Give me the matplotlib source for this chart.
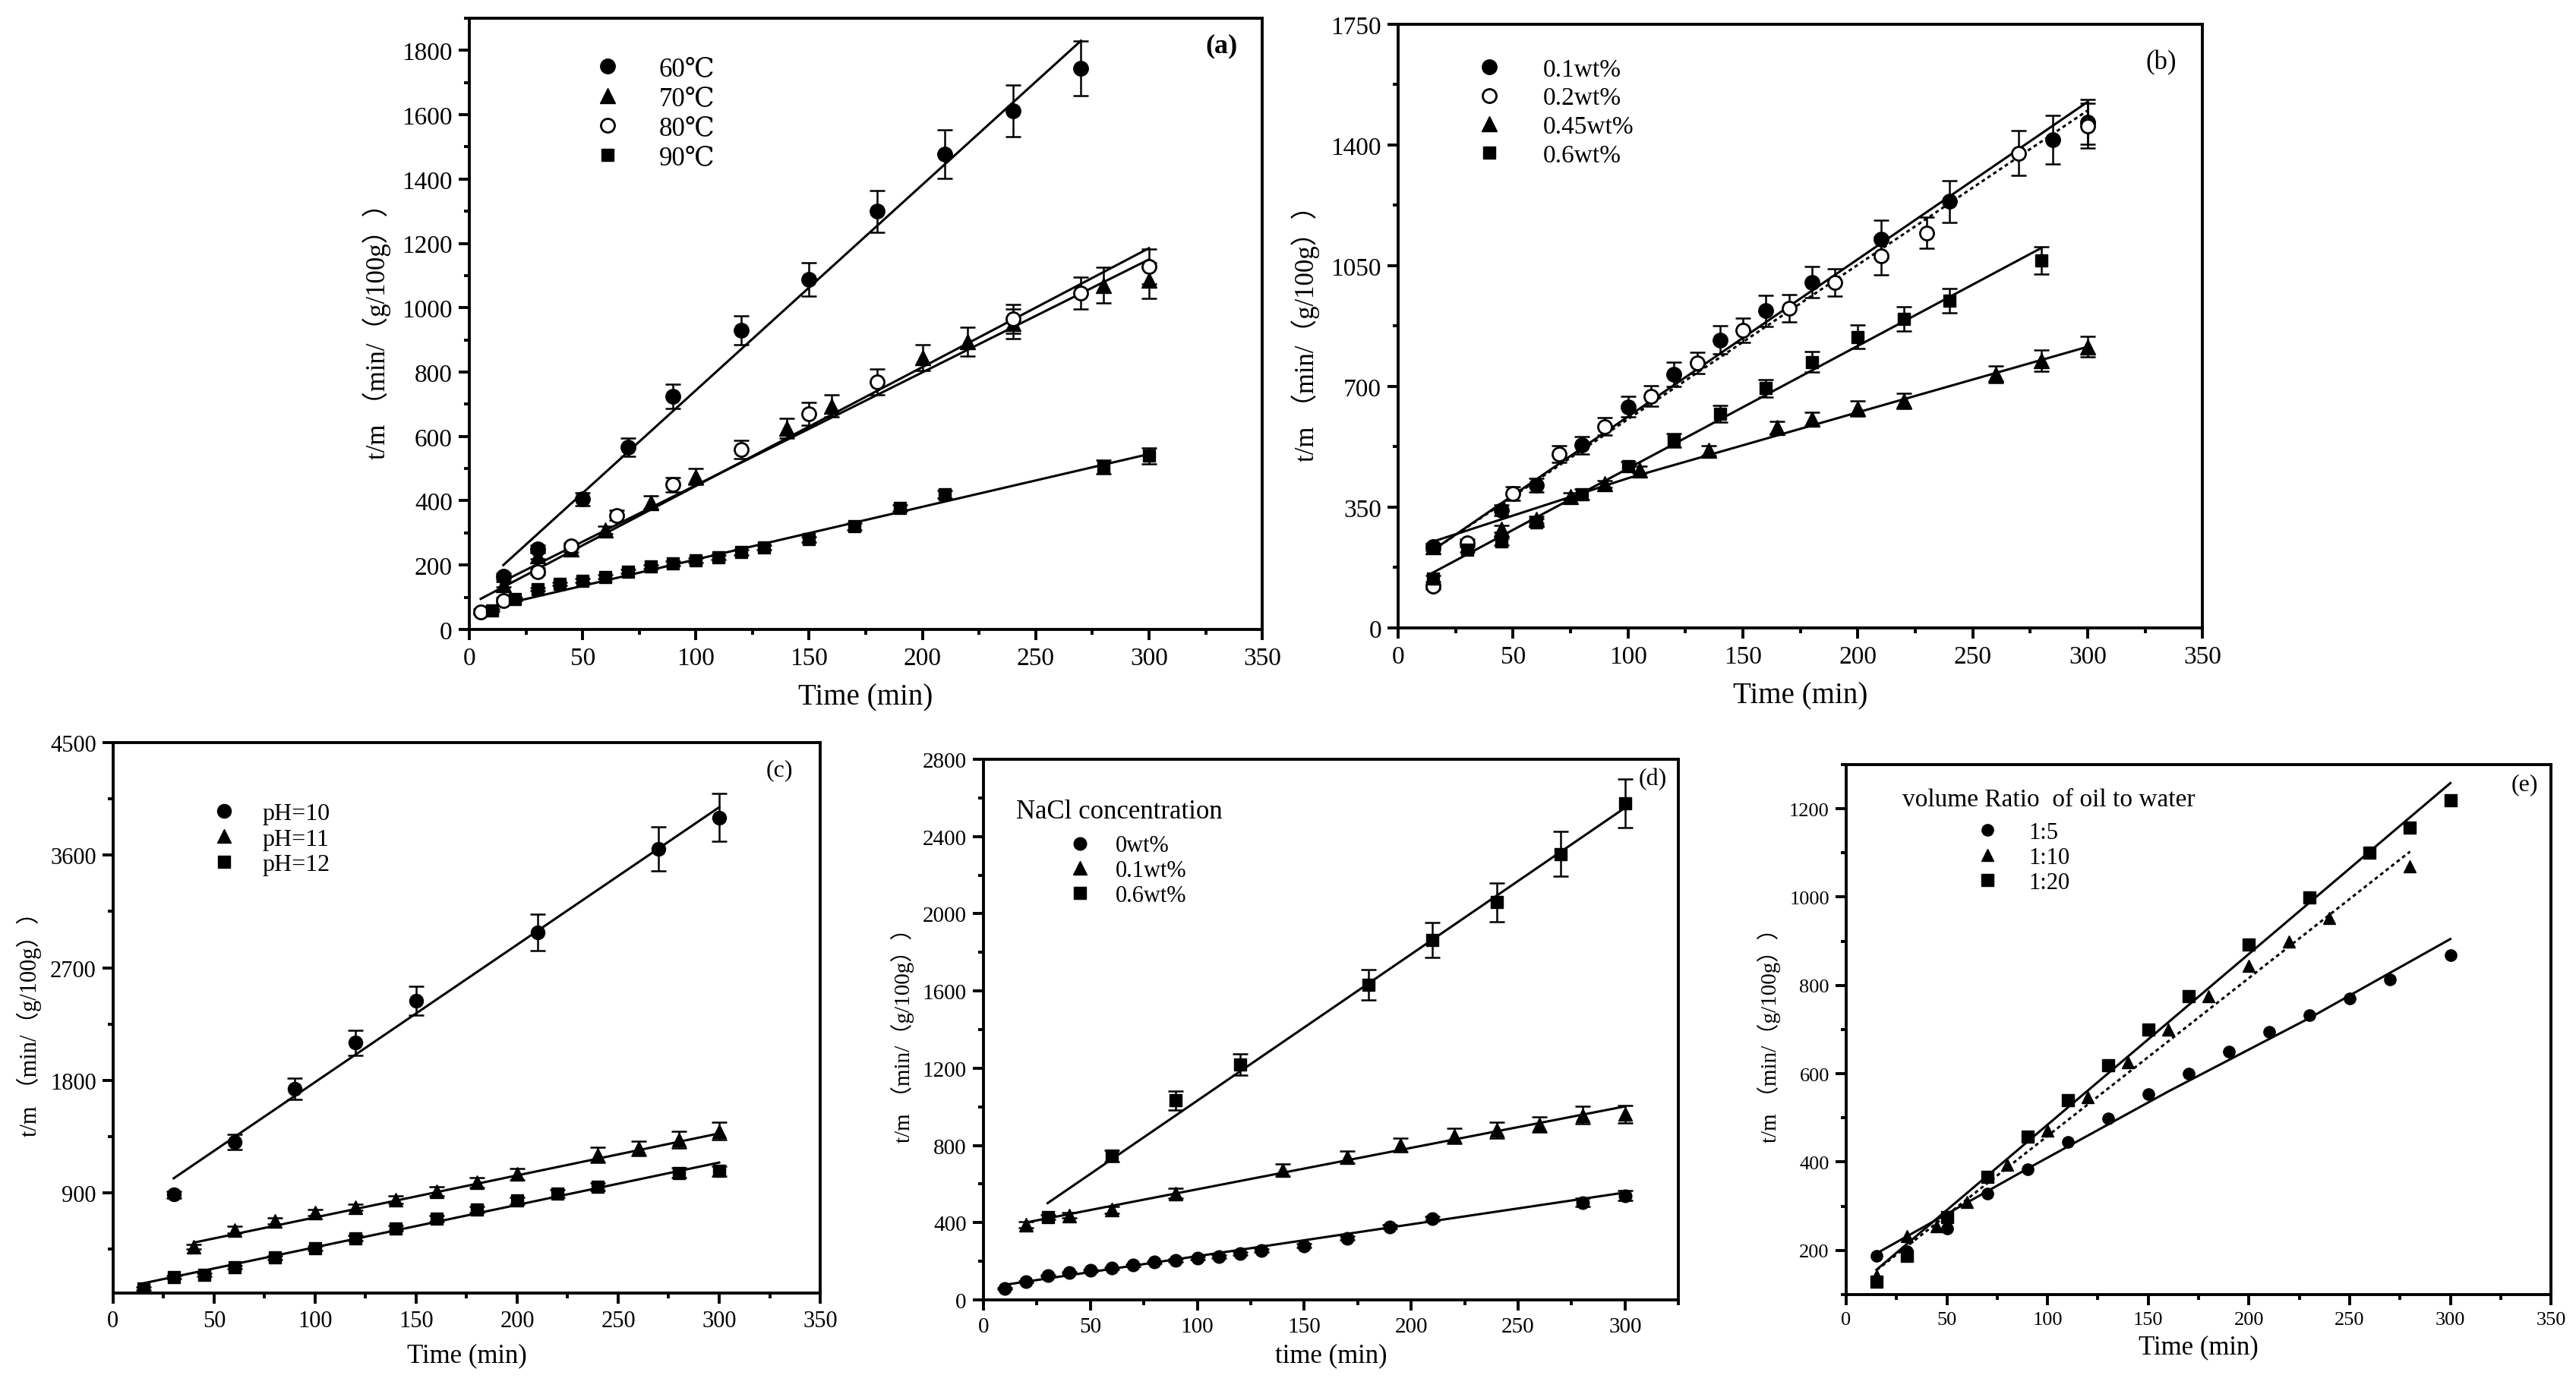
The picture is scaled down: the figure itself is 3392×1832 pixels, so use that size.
"""
Drying kinetics panels (a)-(e): t/m versus time with linear fits.
Five axes placed by hand to follow the original figure layout.
"""
import matplotlib
matplotlib.use("Agg")
import matplotlib.pyplot as plt
from matplotlib.ticker import MultipleLocator
from matplotlib.transforms import IdentityTransform

plt.rcParams["font.family"] = ["Liberation Serif", "DejaVu Serif", "Noto Sans CJK SC"]
plt.rcParams["mathtext.default"] = "regular"

DPI = 100
YLABEL = "t/m （min/（g/100g））"

# ---------------- (a) temperature ----------------
A_X60 = [15, 30, 50, 70, 90, 120, 150, 180, 210, 240, 270]
A_Y60 = [165, 250, 405, 567, 725, 930, 1088, 1300, 1478, 1612, 1745]
A_E60 = [10, 12, 20, 28, 38, 45, 52, 65, 75, 80, 85]
A_X70 = [15, 30, 45, 60, 80, 100, 140, 160, 200, 220, 240, 280, 300]
A_Y70 = [140, 230, 250, 310, 395, 475, 625, 695, 845, 895, 950, 1070, 1085]
A_E70 = [8, 10, 10, 12, 20, 25, 30, 35, 40, 45, 45, 55, 55]
A_X80 = [5, 15, 30, 45, 65, 90, 120, 150, 180, 240, 270, 300]
A_Y80 = [55, 90, 180, 260, 355, 450, 560, 670, 770, 965, 1045, 1128]
A_E80 = [8, 10, 10, 10, 15, 22, 28, 35, 40, 45, 50, 55]
A_X90 = [10, 20, 30, 40, 50, 60, 70, 80, 90, 100, 110, 120, 130, 150, 170, 190, 210, 280, 300]
A_Y90 = [60, 95, 125, 142, 152, 163, 180, 195, 205, 215, 225, 240, 255, 280, 320, 378, 420, 505, 540]
A_E90 = [4, 5, 5, 5, 6, 6, 6, 6, 7, 7, 7, 8, 8, 9, 10, 10, 12, 22, 25]
A_FIT60 = ([15, 270], [200, 1830])
A_FIT70 = ([15, 300], [150, 1150])
A_FIT80 = ([5, 300], [95, 1185])
A_FIT90 = ([10, 300], [70, 545])
A_LABELS = ["60℃", "70℃", "80℃", "90℃"]

# ---------------- (b) concentration ----------------
B_X1 = [15, 45, 60, 80, 100, 120, 140, 160, 180, 210, 240, 285, 300]
B_Y1 = [235, 341, 414, 530, 641, 735, 835, 919, 1002, 1126, 1236, 1416, 1467]
B_E1 = [10, 15, 20, 25, 30, 35, 40, 45, 45, 55, 60, 70, 65]
B_X2 = [15, 30, 50, 70, 90, 110, 130, 150, 170, 190, 210, 230, 270, 300]
B_Y2 = [120, 247, 390, 504, 584, 672, 768, 862, 926, 1002, 1078, 1145, 1376, 1456]
B_E2 = [8, 10, 20, 25, 25, 30, 30, 35, 40, 40, 55, 45, 65, 65]
B_X45 = [15, 45, 60, 75, 90, 105, 135, 165, 180, 200, 220, 260, 280, 300]
B_Y45 = [236, 287, 314, 381, 418, 458, 514, 581, 605, 637, 659, 735, 775, 815]
B_E45 = [8, 10, 10, 10, 10, 10, 15, 18, 20, 22, 22, 25, 30, 30]
B_X6 = [15, 30, 45, 60, 80, 100, 120, 140, 160, 180, 200, 220, 240, 280]
B_Y6 = [143, 227, 250, 307, 387, 468, 544, 621, 695, 771, 844, 895, 949, 1065]
B_E6 = [8, 8, 10, 10, 15, 15, 20, 25, 25, 30, 35, 35, 35, 40]
B_FIT1 = ([15, 300], [225, 1525])
B_FIT2 = ([15, 300], [225, 1500])
B_FIT45 = ([15, 100, 200, 300], [250, 434, 625, 815])
B_FIT6 = ([15, 280], [160, 1102])
B_LABELS = ["0.1wt%", "0.2wt%", "0.45wt%", "0.6wt%"]

# ---------------- (c) pH ----------------
C_X10 = [30, 60, 90, 120, 150, 210, 270, 300]
C_Y10 = [886, 1307, 1735, 2101, 2437, 2984, 3651, 3901]
C_E10 = [25, 60, 85, 100, 115, 145, 175, 190]
C_X11 = [40, 60, 80, 100, 120, 140, 160, 180, 200, 240, 260, 280, 300]
C_Y11 = [469, 606, 675, 743, 784, 846, 914, 983, 1051, 1205, 1256, 1325, 1393]
C_E11 = [20, 25, 25, 25, 25, 30, 35, 40, 45, 60, 60, 65, 70]
C_X12 = [15, 30, 45, 60, 80, 100, 120, 140, 160, 180, 200, 220, 240, 280, 300]
C_Y12 = [137, 230, 247, 305, 384, 459, 538, 617, 692, 767, 839, 897, 949, 1060, 1075]
C_E12 = [10, 12, 12, 14, 16, 18, 20, 22, 24, 26, 28, 30, 32, 40, 40]
C_FIT10 = ([30, 300], [1017, 3983])
C_FIT11 = ([40, 300], [503, 1376])
C_FIT12 = ([15, 300], [178, 1143])
C_LABELS = ["pH=10", "pH=11", "pH=12"]

# ---------------- (d) NaCl ----------------
D_X0 = [10, 20, 30, 40, 50, 60, 70, 80, 90, 100, 110, 120, 130, 150, 170, 190, 210, 280, 300]
D_Y0 = [60, 95, 125, 142, 152, 163, 180, 195, 205, 215, 225, 240, 255, 280, 320, 378, 420, 505, 540]
D_E0 = [4, 5, 5, 5, 6, 6, 6, 6, 7, 7, 7, 8, 8, 9, 10, 10, 12, 22, 25]
D_X01 = [20, 40, 60, 90, 140, 170, 195, 220, 240, 260, 280, 300]
D_Y01 = [390, 438, 467, 552, 672, 739, 801, 850, 879, 908, 957, 962]
D_E01 = [15, 15, 18, 25, 30, 30, 35, 40, 40, 40, 45, 45]
D_X06 = [30, 60, 90, 120, 180, 210, 240, 270, 300]
D_Y06 = [430, 746, 1033, 1220, 1632, 1865, 2059, 2310, 2571]
D_E06 = [12, 30, 50, 55, 80, 90, 100, 115, 125]
D_FIT0 = ([10, 300], [78, 556])
D_FIT01 = ([20, 300], [401, 1002])
D_FIT06 = ([30, 300], [501, 2549])
D_LABELS = ["0wt%", "0.1wt%", "0.6wt%"]
D_TITLE = "NaCl concentration"

# ---------------- (e) oil/water ratio ----------------
E_X5 = [15, 30, 50, 70, 90, 110, 130, 150, 170, 190, 210, 230, 250, 270, 300]
E_Y5 = [188, 198, 249, 329, 384, 445, 498, 553, 600, 650, 694, 732, 771, 813, 868]
E_X10 = [15, 30, 45, 60, 80, 100, 120, 140, 160, 180, 200, 220, 240, 280]
E_Y10 = [143, 232, 254, 309, 394, 471, 547, 626, 700, 776, 844, 900, 953, 1069]
E_X20 = [15, 30, 50, 70, 90, 110, 130, 150, 170, 200, 230, 260, 280, 300]
E_Y20 = [130, 188, 276, 366, 458, 540, 619, 700, 776, 892, 999, 1101, 1158, 1219]
E_FIT5 = ([15, 90, 160, 230, 300], [193, 385, 560, 726, 905])
E_FIT10 = ([15, 280], [155, 1103])
E_FIT20 = ([15, 300], [156, 1258])
E_LABELS = ["1:5", "1:10", "1:20"]
E_TITLE = "volume Ratio  of oil to water"

FILLED = dict(color="black", mfc="black", mec="black")
OPEN = dict(color="black", mfc="white", mec="black", mew=2.0)
FINE_DASH = (0, (1.6, 1.4))


def style_axes(ax, xlim, ylim, xmaj, xmin, ymaj, ymin, tick_fs):
    ax.set_xlim(*xlim)
    ax.set_ylim(*ylim)
    ax.xaxis.set_major_locator(MultipleLocator(xmaj))
    ax.xaxis.set_minor_locator(MultipleLocator(xmin))
    ax.yaxis.set_major_locator(MultipleLocator(ymaj))
    ax.yaxis.set_minor_locator(MultipleLocator(ymin))
    for sp in ax.spines.values():
        sp.set_linewidth(2.8)
    ax.tick_params(which="major", direction="out", length=10, width=2.8,
                   labelsize=tick_fs, pad=6, top=False, right=False)
    ax.tick_params(which="minor", direction="out", length=5, width=2.8,
                   top=False, right=False)


def series(ax, x, y, err, marker, ms, style):
    if err is not None:
        ax.errorbar(x, y, yerr=err, fmt="none", ecolor="black", elinewidth=1.8,
                    capsize=7, capthick=1.8, zorder=2)
    (h,) = ax.plot(x, y, ls="none", marker=marker, ms=ms, zorder=3, **style)
    return h


def fit(ax, line, ls="-"):
    ax.plot(line[0], line[1], color="black", lw=2.2, ls=ls, zorder=1)


def put_legend(ax, handles, labels, mx, my, pitch_px, text_dx_px, fs):
    """Legend whose first marker centre sits at data point (mx, my)."""
    fs_px = fs * DPI / 72.0
    hl = 1.0
    pad = (text_dx_px - hl * fs_px / 2) / fs_px
    row_h = 0.94 * fs_px
    spacing = max(pitch_px - row_h, 0) / fs_px
    x0, y0 = ax.transData.transform((mx, my))
    ax.legend(handles, labels, loc="upper left",
              bbox_to_anchor=(x0 - hl * fs_px / 2, y0 + row_h / 2),
              bbox_transform=IdentityTransform(), frameon=False,
              borderpad=0, borderaxespad=0, handlelength=hl,
              handletextpad=pad, labelspacing=spacing, fontsize=fs,
              numpoints=1)


def main():
    fig = plt.figure(figsize=(33.92, 18.33), dpi=DPI)

    # ---- (a)
    ax = fig.add_axes([0.1822, 0.5472, 0.3078, 0.4392])
    style_axes(ax, (0, 350), (0, 1900), 50, 25, 200, 100, 24)
    fit(ax, A_FIT60); fit(ax, A_FIT70); fit(ax, A_FIT80); fit(ax, A_FIT90)
    h = [series(ax, A_X60, A_Y60, A_E60, "o", 14, FILLED),
         series(ax, A_X70, A_Y70, A_E70, "^", 14, FILLED),
         series(ax, A_X80, A_Y80, A_E80, "o", 13, OPEN),
         series(ax, A_X90, A_Y90, A_E90, "s", 12, FILLED)]
    put_legend(ax, h, A_LABELS, 61, 1743, 38.5, 68, 25)
    ax.set_xlabel("Time (min)", fontsize=28, labelpad=13)
    ax.set_ylabel(YLABEL, fontsize=25, labelpad=10)
    ax.text(332, 1815, "(a)", fontsize=26, fontweight="bold", ha="center", va="center")

    # ---- (b)
    ax = fig.add_axes([0.5428, 0.5483, 0.3122, 0.4337])
    style_axes(ax, (0, 350), (0, 1750), 50, 25, 350, 175, 24)
    fit(ax, B_FIT1); fit(ax, B_FIT2, FINE_DASH); fit(ax, B_FIT45); fit(ax, B_FIT6)
    h = [series(ax, B_X1, B_Y1, B_E1, "o", 14, FILLED),
         series(ax, B_X2, B_Y2, B_E2, "o", 13, OPEN),
         series(ax, B_X45, B_Y45, B_E45, "^", 14, FILLED),
         series(ax, B_X6, B_Y6, B_E6, "s", 12, FILLED)]
    put_legend(ax, h, B_LABELS, 39.7, 1618, 38.5, 70, 24)
    ax.set_xlabel("Time (min)", fontsize=28, labelpad=13)
    ax.set_ylabel(YLABEL, fontsize=25, labelpad=10)
    ax.text(332, 1640, "(b)", fontsize=25, ha="center", va="center")

    # ---- (c)
    ax = fig.add_axes([0.0439, 0.0704, 0.2745, 0.3955])
    style_axes(ax, (0, 350), (100, 4500), 50, 25, 900, 450, 22)
    fit(ax, C_FIT10); fit(ax, C_FIT11); fit(ax, C_FIT12)
    h = [series(ax, C_X10, C_Y10, C_E10, "o", 13, FILLED),
         series(ax, C_X11, C_Y11, C_E11, "^", 13, FILLED),
         series(ax, C_X12, C_Y12, C_E12, "s", 12, FILLED)]
    put_legend(ax, h, C_LABELS, 55, 3930, 34, 50, 23)
    ax.set_xlabel("Time (min)", fontsize=25, labelpad=10)
    ax.set_ylabel(YLABEL, fontsize=22, labelpad=8)
    ax.text(330, 4282, "(c)", fontsize=23, ha="center", va="center")

    # ---- (d)
    ax = fig.add_axes([0.3818, 0.0655, 0.2698, 0.3884])
    style_axes(ax, (0, 325), (0, 2800), 50, 25, 400, 200, 21)
    fit(ax, D_FIT0); fit(ax, D_FIT01); fit(ax, D_FIT06)
    h = [series(ax, D_X0, D_Y0, D_E0, "o", 12, FILLED),
         series(ax, D_X01, D_Y01, D_E01, "^", 13, FILLED),
         series(ax, D_X06, D_Y06, D_E06, "s", 12, FILLED)]
    put_legend(ax, h, D_LABELS, 45, 2353, 32.5, 47, 22)
    ax.text(15.3, 2529, D_TITLE, fontsize=25, ha="left", va="center")
    ax.set_xlabel("time (min)", fontsize=25, labelpad=6)
    ax.set_ylabel(YLABEL, fontsize=21, labelpad=8)
    ax.text(313, 2700, "(d)", fontsize=23, ha="center", va="center")

    # ---- (e)
    ax = fig.add_axes([0.7167, 0.0693, 0.2736, 0.3808])
    style_axes(ax, (0, 350), (100, 1300), 50, 25, 200, 100, 19)
    fit(ax, E_FIT5); fit(ax, E_FIT10, FINE_DASH); fit(ax, E_FIT20)
    h = [series(ax, E_X5, E_Y5, None, "o", 11, FILLED),
         series(ax, E_X10, E_Y10, None, "^", 12, FILLED),
         series(ax, E_X20, E_Y20, None, "s", 11, FILLED)]
    put_legend(ax, h, E_LABELS, 70, 1147, 33, 55, 22)
    ax.text(28, 1221, E_TITLE, fontsize=24, ha="left", va="center")
    ax.set_xlabel("Time (min)", fontsize=25, labelpad=6)
    ax.set_ylabel(YLABEL, fontsize=21, labelpad=8)
    ax.text(337, 1255, "(e)", fontsize=23, ha="center", va="center")

    fig.savefig("out.png", dpi=DPI)


if __name__ == "__main__":
    main()
